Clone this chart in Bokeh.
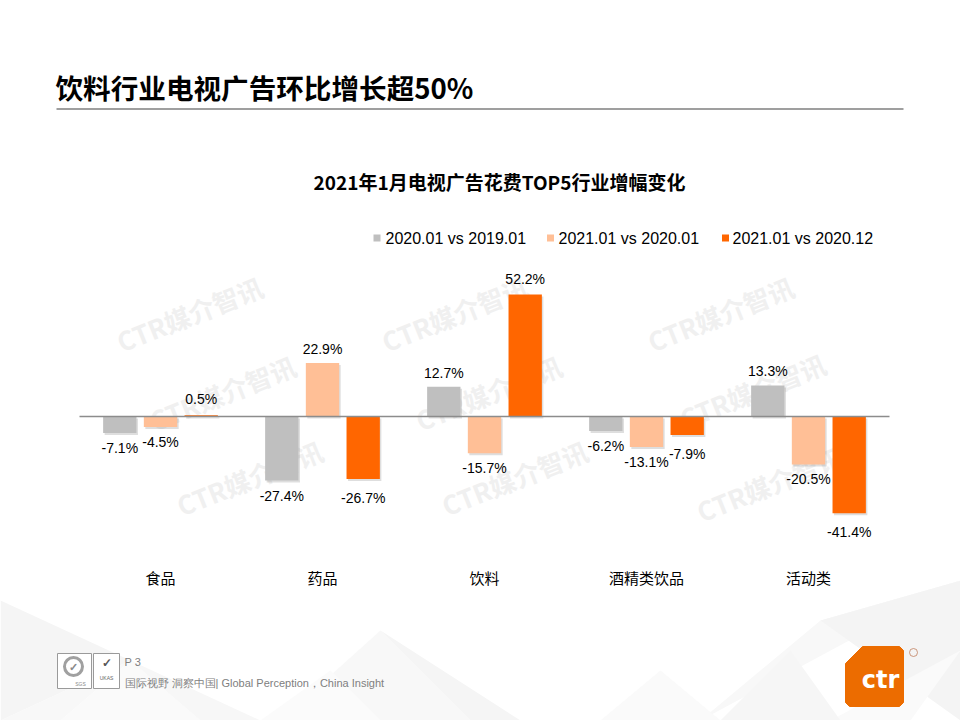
from bokeh.plotting import figure
from bokeh.models import Range1d
from bokeh.core.properties import value
from bokeh.embed import file_html
from bokeh.resources import INLINE
import numpy as np

# ---------------- data ----------------
categories = ["食品", "药品", "饮料", "酒精类饮品", "活动类"]
series_names = ["2020.01 vs 2019.01", "2021.01 vs 2020.01", "2021.01 vs 2020.12"]
s_2020_vs_2019 = [-7.1, -27.4, 12.7, -6.2, 13.3]
s_2021_vs_2020 = [-4.5, 22.9, -15.7, -13.1, -20.5]
s_2021_vs_2012 = [0.5, -26.7, 52.2, -7.9, -41.4]
series_values = [s_2020_vs_2019, s_2021_vs_2020, s_2021_vs_2012]

page_title = "饮料行业电视广告环比增长超50%"
chart_title = "2021年1月电视广告花费TOP5行业增幅变化"
footer_page = "P 3"
footer_text = "国际视野 洞察中国| Global Perception，China Insight"
watermark_text = "CTR媒介智讯"

# ---------------- style ----------------
colors = ["#BFBFBF", "#FFBF96", "#FF6600"]
CJK = "Noto Sans CJK SC"
LAT = "Liberation Sans"

W, H = 960, 720
p = figure(width=W, height=H, x_range=Range1d(0, W), y_range=Range1d(H, 0),
           output_backend="svg", toolbar_location=None, min_border=0,
           x_axis_location=None, y_axis_location=None)
p.grid.visible = False
p.outline_line_color = None
p.background_fill_color = "white"
p.border_fill_color = "white"

# ---------------- background low-poly decoration ----------------
polys_x = [
    [0, 130, 0], [0, 130, 60], [60, 130, 200], [130, 200, 260],
    [280, 470, 380], [380, 470, 520], [260, 380, 330],
    [700, 820, 960], [820, 960, 960], [830, 960, 910], [720, 840, 790],
    [600, 720, 660],
]
polys_y = [
    [600, 660, 720], [720, 660, 720], [720, 660, 720], [660, 720, 720],
    [720, 720, 630], [630, 720, 720], [720, 720, 670],
    [720, 620, 580], [620, 580, 720], [720, 650, 720], [720, 720, 650],
    [720, 720, 670],
]
poly_cols = ["#F5F5F5", "#F8F8F8", "#FAFAFA", "#F7F7F7",
             "#F8F8F8", "#F5F5F5", "#FBFBFB",
             "#F8F8F8", "#F4F4F4", "#FAFAFA", "#F6F6F6",
             "#FAFAFA"]
p.patches(xs=polys_x, ys=polys_y, fill_color=poly_cols, line_color=None)

# ---------------- page title ----------------
p.text(x=[55], y=[86], text=[page_title], text_font=value(CJK), text_font_style="bold",
       text_font_size="27.6px", text_color="#000000", text_baseline="middle", text_align="left")
p.segment(x0=[56], y0=[108.5], x1=[903], y1=[108.5], line_color="#7F7F7F", line_width=1.3)

# ---------------- chart title ----------------
p.text(x=[499], y=[181], text=[chart_title], text_font=value(CJK), text_font_style="bold",
       text_font_size="19px", text_color="#000000", text_baseline="middle", text_align="center")

# ---------------- watermark ----------------
wm_x = [189, 454, 720, 222, 488, 752, 249, 514, 769]
wm_y = [313, 313, 313, 392, 392, 390, 477, 477, 483]
p.text(x=wm_x, y=wm_y, text=[watermark_text] * len(wm_x), angle=0.38,
       text_font=value(CJK), text_font_style="bold", text_font_size="26px",
       text_color="#F0F0F0", text_align="center", text_baseline="middle")

# ---------------- chart mapping ----------------
x0px, catpx = 79, 162
zero_px = 416
k = 122 / 52.2          # pixels per percentage point
p.extra_x_ranges = {"cx": Range1d(-x0px / catpx, (W - x0px) / catpx)}
p.extra_y_ranges = {"cy": Range1d(-(H - zero_px) / k, zero_px / k)}

n = len(categories)
centers = np.arange(n) + 0.5
offsets = [-0.2512, 0.0, 0.2512]
bw = 0.2058
sh_dx = 1.5 / catpx
sh_dy = 2.0 / k

for j, vals in enumerate(series_values):
    xs = centers + offsets[j]
    v = np.array(vals)
    p.vbar(x=xs + sh_dx, top=v - sh_dy, bottom=-sh_dy, width=bw,
           fill_color="#000000", fill_alpha=0.13, line_color=None,
           x_range_name="cx", y_range_name="cy")
    p.vbar(x=xs, top=v, bottom=0, width=bw, fill_color=colors[j], line_color=None,
           x_range_name="cx", y_range_name="cy")

# zero line
p.segment(x0=[0], y0=[0], x1=[n], y1=[0], line_color="#8C8C8C", line_width=1.3,
          x_range_name="cx", y_range_name="cy")

# data labels
up_off = [14, 14, 16]
down_off = [15, 15, 19]
for j, vals in enumerate(series_values):
    xs = centers + offsets[j]
    offs = [-up_off[j] if v >= 0 else down_off[j] for v in vals]
    p.text(x=xs, y=vals, text=[f"{v:.1f}%" for v in vals], y_offset=offs,
           text_font=value(LAT), text_font_size="14px", text_color="#000000",
           text_align="center", text_baseline="middle",
           x_range_name="cx", y_range_name="cy")

# category labels
p.text(x=centers, y=[577] * n, text=categories, text_font=value(CJK),
       text_font_size="15px", text_color="#000000", text_align="center",
       text_baseline="middle", x_range_name="cx")

# legend
leg_sq_x = [376.5, 550, 725]
leg_tx_x = [385, 558, 732]
leg_y = 237.5
p.rect(x=leg_sq_x, y=[leg_y] * 3, width=7, height=7, fill_color=colors, line_color=None)
p.text(x=leg_tx_x, y=[leg_y] * 3, text=series_names, text_font=value(LAT),
       text_font_size="16px", text_color="#000000", text_align="left",
       text_baseline="middle")

# ---------------- footer ----------------
p.rect(x=[74, 106], y=[670.5, 670.5], width=[34, 26], height=[35, 35],
       fill_color="white", line_color="#9A9A9A", line_width=1)
p.circle(x=[73], y=[666], radius=9, fill_color=None, line_color="#A0A0A0", line_width=3)
p.text(x=[73], y=[666], text=["✓"], text_font=value(LAT), text_font_size="11px",
       text_color="#8A8A8A", text_align="center", text_baseline="middle", text_font_style="bold")
p.text(x=[80], y=[683], text=["SGS"], text_font=value(LAT), text_font_size="5px",
       text_color="#8A8A8A", text_align="center", text_baseline="middle")
p.text(x=[106], y=[662], text=["✓"], text_font=value(LAT), text_font_size="12px",
       text_color="#555555", text_align="center", text_baseline="middle", text_font_style="bold")
p.text(x=[106], y=[677], text=["UKAS"], text_font=value(LAT), text_font_size="5px",
       text_color="#666666", text_align="center", text_baseline="middle")
p.text(x=[124], y=[661], text=[footer_page], text_font=value(LAT), text_font_size="11px",
       text_color="#808080", text_align="left", text_baseline="middle")
p.text(x=[124], y=[682], text=[footer_text], text_font=value(LAT), text_font_size="11px",
       text_color="#808080", text_align="left", text_baseline="middle")

# ctr logo
logo_x = [862, 899, 903, 903, 899, 849, 845, 845]
logo_y = [646, 646, 650, 702, 706, 706, 702, 663]
p.patch(x=logo_x, y=logo_y, fill_color="#EC6C00", line_color="#EC6C00", line_width=1)
p.text(x=[880], y=[679], text=["ctr"], text_font=value("DejaVu Sans"), text_font_style="bold",
       text_font_size="24px", text_color="white", text_align="center", text_baseline="middle")
p.circle(x=[913], y=[652], radius=4, fill_color=None, line_color="#C08060", line_width=0.8)

open("out.html", "w").write(file_html(p, INLINE))
